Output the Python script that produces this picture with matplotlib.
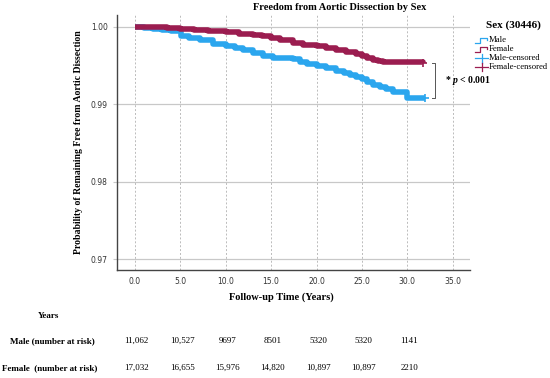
import matplotlib.pyplot as plt
from matplotlib.lines import Line2D

plt.rcParams['mathtext.fontset'] = 'custom'
plt.rcParams['mathtext.bfit'] = 'Liberation Serif:italic:bold'
plt.rcParams['mathtext.it'] = 'Liberation Serif:italic:bold'

# Curvas Kaplan-Meier
anios_fem = [0, 2, 3.5, 5, 6.5, 8, 10, 11.5, 13, 14, 15, 16, 17.4, 18.5, 20, 21, 22.2, 23.3,
             24.4, 25, 25.6, 26.2, 26.8, 27.3, 31.7]
surv_fem = [1.0, 0.99995, 0.99985, 0.99974, 0.9996, 0.99948, 0.9993, 0.99915, 0.999, 0.9988,
            0.99852, 0.9983, 0.99795, 0.9977, 0.99749, 0.99728, 0.99706, 0.9968, 0.9965, 0.9962,
            0.996, 0.99577, 0.99555, 0.99542, 0.99534]
anios_masc = [0, 1, 2, 3, 4, 4.6, 5.1, 6, 7.2, 8.6, 10, 11, 11.9, 13, 14.1, 15.2, 17.4, 18.2, 19,
              20, 21, 22.2, 23, 23.7, 24.4, 25, 25.6, 26.2, 27, 27.7, 28.4, 30, 31.9]
surv_masc = [1.0, 0.9999, 0.99975, 0.99962, 0.9995, 0.99943, 0.99878, 0.99855, 0.99827, 0.99784,
             0.99758, 0.99732, 0.99706, 0.99664, 0.9962, 0.99598, 0.9959, 0.99547, 0.99525,
             0.9949, 0.99465, 0.99435, 0.9941, 0.99383, 0.9936, 0.99331, 0.9929, 0.99253,
             0.9923, 0.99202, 0.99159, 0.99081, 0.99081]

# Tabla de pacientes en riesgo
anios_tabla = [0, 5, 10, 15, 20, 25, 30]
riesgo_masc = ['11,062', '10,527', '9697', '8501', '5320', '5320', '1141']
riesgo_fem = ['17,032', '16,655', '15,976', '14,820', '10,897', '10,897', '2210']

x_ticks = [0, 5, 10, 15, 20, 25, 30, 35]
y_ticks = [0.97, 0.98, 0.99, 1.00]

AZUL = '#2ba6ee'
BORDO = '#9b1d50'
SERIF = 'Liberation Serif'

W, H = 550, 378
fig = plt.figure(figsize=(5.5, 3.78), dpi=100, facecolor='white')
ax = fig.add_axes([116.7 / W, 1 - 270 / H, (470 - 116.7) / W, (270 - 15) / H])

ax.set_xlim(-2.0, 36.9)
ax.set_ylim(0.9686, 1.00155)

for x in x_ticks:
    ax.axvline(x, color='#bbbbbb', linestyle=(0, (2, 2)), linewidth=0.7, zorder=0)
for y in y_ticks:
    ax.axhline(y, color='#c8c8c8', linewidth=0.9, zorder=0)

ax.step(anios_fem, surv_fem, where='post', color=BORDO, linewidth=4, solid_capstyle='butt', zorder=3)
ax.step(anios_masc, surv_masc, where='post', color=AZUL, linewidth=4, solid_capstyle='butt', zorder=2)
ax.plot(anios_fem[-1], surv_fem[-1], marker='+', color=BORDO, markersize=6, mew=1.2, zorder=4)
ax.plot(anios_masc[-1], surv_masc[-1], marker='+', color=AZUL, markersize=6, mew=1.2, zorder=4)

# Corchete de significancia
xb = 33.1
ax.plot([xb - 0.4, xb, xb, xb - 0.4], [surv_fem[-1], surv_fem[-1], surv_masc[-1], surv_masc[-1]],
        color='#555555', linewidth=0.7)
ax.text(xb + 1.0, (surv_fem[-1] + surv_masc[-1]) / 2, r'* $p$ < 0.001', fontsize=7,
        family=SERIF, fontweight='bold', va='center', ha='left')

ax.set_xticks(x_ticks)
ax.set_xticklabels([f'{x:.1f}' for x in x_ticks])
ax.set_yticks(y_ticks)
ax.set_yticklabels([f'{y:.2f}' for y in y_ticks])
ax.tick_params(axis='both', labelsize=5.5, colors='#c8c8c8', labelcolor='#333333', length=3, width=0.8)
ax.tick_params(axis='x', length=0, pad=5)
for lado in ['top', 'right']:
    ax.spines[lado].set_visible(False)
for lado in ['left', 'bottom']:
    ax.spines[lado].set_color('#444444')
    ax.spines[lado].set_linewidth(1.0)

ax.set_ylabel('Probability of Remaining Free from Aortic Dissection', family=SERIF,
              fontweight='bold', fontsize=7)
ax.yaxis.set_label_coords(-0.095, 0.5)

fig.text(340 / W, 1 - 8 / H, 'Freedom from Aortic Dissection by Sex', family=SERIF,
         fontweight='bold', fontsize=7.5, ha='center', va='center')
fig.text(281 / W, 1 - 297 / H, 'Follow-up Time (Years)', family=SERIF,
         fontweight='bold', fontsize=7.5, ha='center', va='center')

# Leyenda
fig.text(513 / W, 1 - 25 / H, 'Sex (30446)', family=SERIF, fontweight='bold', fontsize=8,
         ha='center', va='center')
items = [('Male', AZUL, 'step', 40), ('Female', BORDO, 'step', 49),
         ('Male-censored', AZUL, 'plus', 58), ('Female-censored', BORDO, 'plus', 67)]
for nombre, color, tipo, yp in items:
    yf = 1 - yp / H
    d = 2.5 / H
    if tipo == 'step':
        fig.add_artist(Line2D([475 / W, 480 / W, 480 / W, 487 / W, 487 / W], [yf - d, yf - d, yf + d, yf + d, yf],
                              color=color, linewidth=0.9))
    else:
        fig.add_artist(Line2D([475 / W, 488 / W], [yf, yf], color=color, linewidth=0.9))
        fig.add_artist(Line2D([481.5 / W, 481.5 / W], [yf - 1.8 * d, yf + 1.8 * d], color=color, linewidth=0.9))
    fig.text(488.5 / W, yf, nombre, family=SERIF, fontsize=6.2, ha='left', va='center')

# Tabla de pacientes en riesgo
fig.text(49 / W, 1 - 316 / H, 'Years', family=SERIF, fontweight='bold', fontsize=6.5, ha='center', va='center')
fig.text(52 / W, 1 - 341 / H, 'Male (number at risk)', family=SERIF, fontweight='bold', fontsize=6.5,
         ha='center', va='center')
fig.text(50 / W, 1 - 368 / H, 'Female  (number at risk)', family=SERIF, fontweight='bold', fontsize=6.5,
         ha='center', va='center')
for anio, m, f in zip(anios_tabla, riesgo_masc, riesgo_fem):
    xf = ax.transData.transform((anio + 0.2, 1.0))[0] / fig.dpi / fig.get_figwidth()
    fig.text(xf, 1 - 341 / H, m, family=SERIF, fontsize=6.5, ha='center', va='center')
    fig.text(xf, 1 - 368 / H, f, family=SERIF, fontsize=6.5, ha='center', va='center')

fig.savefig('out.png', dpi=100, facecolor='white')
